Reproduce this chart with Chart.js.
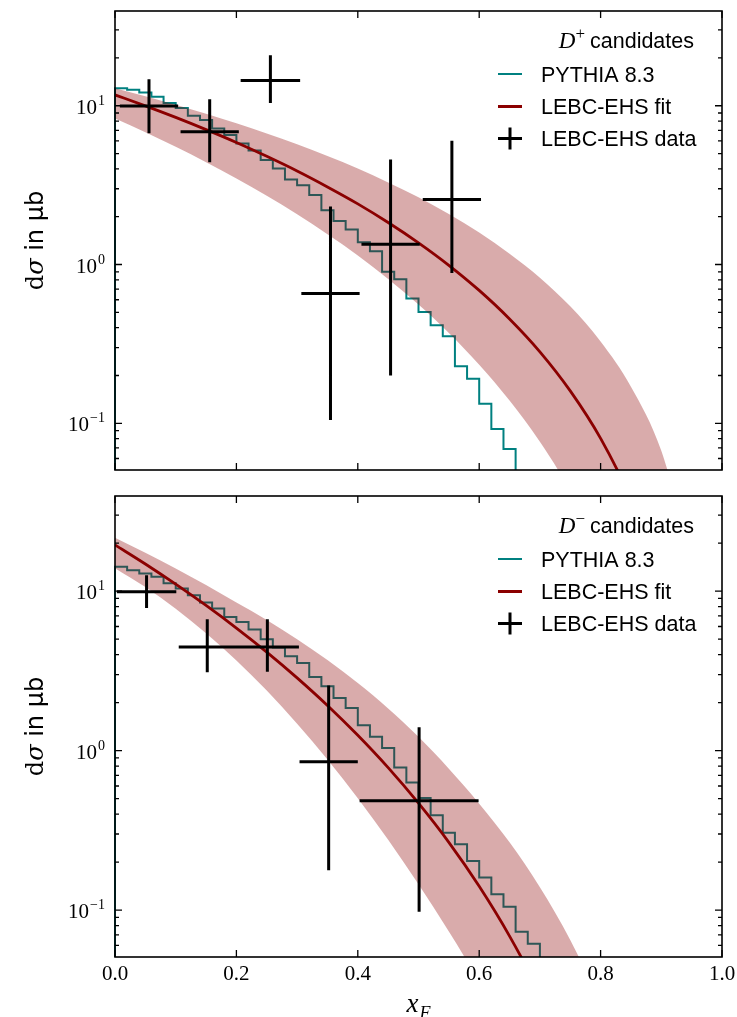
<!DOCTYPE html>
<html>
<head>
<meta charset="utf-8">
<script src="https://cdn.jsdelivr.net/npm/chart.js@4.4.1/dist/chart.umd.min.js"></script>
<style>
  html, body { margin: 0; padding: 0; background: #fff; }
  #wrap { position: relative; width: 737px; height: 1017px; overflow: hidden; }
  canvas { position: absolute; left: 0; }
  #top { top: 0; }
  #bot { top: 480px; }
</style>
</head>
<body>
<div id="wrap">
  <canvas id="top" width="737" height="480"></canvas>
  <canvas id="bot" width="737" height="537"></canvas>
</div>
<script>
// ---- values ----
const xTicks = [0, 0.2, 0.4, 0.6, 0.8, 1.0];
const yDecades = [0.1, 1, 10];
const legendRows = ['PYTHIA 8.3', 'LEBC-EHS fit', 'LEBC-EHS data'];

// PYTHIA histograms, bins of 0.02 starting at x = 0
const binWidth = 0.02;
const pythiaPlus = [12.9, 12.6, 12.1, 11.4, 10.4, 9.67, 8.65, 8.13, 7.2, 6.53, 5.79, 5.23, 4.55, 4.03, 3.43, 3.16, 2.74, 2.20,
  1.88, 1.66, 1.38, 1.21, 0.90, 0.807, 0.61, 0.503, 0.414, 0.353, 0.229, 0.191, 0.133, 0.092, 0.069, 0.03];
const pythiaMinus = [14.2, 13.5, 12.9, 12.3, 11.2, 10.4, 9.44, 8.50, 7.79, 6.89, 6.41, 5.74, 4.99, 4.43, 3.90, 3.54, 2.89, 2.53,
  2.14, 1.85, 1.44, 1.22, 1.04, 0.785, 0.632, 0.504, 0.394, 0.306, 0.259, 0.203, 0.160, 0.1255, 0.105, 0.0731, 0.0614, 0.03];

// fit curve and its band, sampled every 0.05
const fitX = [0, 0.05, 0.10, 0.15, 0.20, 0.25, 0.30, 0.35, 0.40, 0.45, 0.50, 0.55, 0.60, 0.65, 0.70, 0.75, 0.80, 0.85, 0.90, 0.95];
const fitPlus = [11.7, 9.98, 8.44, 7.07, 5.87, 4.80, 3.88, 3.08, 2.41, 1.84, 1.37, 0.989, 0.687, 0.454, 0.282, 0.160, 0.0803, 0.0330, 0.0094, 0.0011];
const bandPlusHi = [12.9, 11.47, 10.14, 8.90, 7.75, 6.69, 5.71, 4.82, 4.02, 3.29, 2.65, 2.08, 1.59, 1.17, 0.826, 0.545, 0.327, 0.170, 0.0672, 0.0138];
const bandPlusLo = [8.3, 6.80, 5.51, 4.41, 3.48, 2.71, 2.07, 1.55, 1.14, 0.810, 0.559, 0.371, 0.234, 0.139, 0.0764, 0.0376, 0.0158, 0.0052, 0.0011, 0.0001];
const fitMinus = [19.5, 14.8, 11.06, 8.13, 5.87, 4.15, 2.86, 1.92, 1.248, 0.782, 0.468, 0.266, 0.141, 0.0687, 0.0300, 0.01125, 0.00338, 0.00072, 0.0001, 0.00001];
const bandMinusHi = [21.6, 17.42, 13.89, 10.93, 8.48, 6.6, 5.0, 3.7, 2.65, 1.84, 1.22, 0.77, 0.465, 0.266, 0.139, 0.0649, 0.0255, 0.0076, 0.0014, 0.00008];
const bandMinusLo = [13.9, 10.6, 7.76, 5.45, 3.68, 2.38, 1.476, 0.880, 0.503, 0.276, 0.145, 0.0733, 0.0356, 0.0165, 0.00739, 0.00316, 0.00129, 0.0005, 0.00019, 0.00007];

// LEBC-EHS data points
const dataXPlus = [0.056, 0.156, 0.256, 0.355, 0.454, 0.555];
const dataXErrPlus = [0.048, 0.048, 0.049, 0.048, 0.048, 0.048];
const dataYPlus = [9.95, 6.85, 14.4, 0.656, 1.34, 2.57];
const dataYLoPlus = [6.70, 4.40, 10.4, 0.105, 0.200, 0.885];
const dataYHiPlus = [14.7, 10.97, 20.8, 2.32, 4.59, 6.02];

const dataXMinus = [0.052, 0.152, 0.251, 0.352, 0.501];
const dataXErrMinus = [0.049, 0.047, 0.052, 0.048, 0.098];
const dataYMinus = [9.9, 4.47, 4.47, 0.853, 0.485];
const dataYLoMinus = [7.85, 3.10, 3.12, 0.178, 0.0975];
const dataYHiMinus = [12.6, 6.67, 6.67, 2.56, 1.40];

const yMin = 0.0508, yMax = 39.5;
const teal = '#008080', darkred = '#8b0000', bandColor = 'rgba(139,0,0,0.33)';

function histPoints(vals) {
  const pts = [{ x: 0, y: 1e-4 }];
  vals.forEach((v, i) => pts.push({ x: i * binWidth, y: v }));
  pts.push({ x: vals.length * binWidth, y: 1e-4 });
  return pts;
}
function curve(ys) {
  return fitX.map((x, i) => ({ x, y: ys[i] }));
}
function errPoints(xs, xe, ys, lo, hi) {
  const pts = [];
  xs.forEach((x, i) => {
    pts.push({ x: x - xe[i], y: ys[i] }, { x: x + xe[i], y: ys[i] }, { x, y: null },
             { x, y: lo[i] }, { x, y: hi[i] }, { x, y: null });
  });
  return pts;
}

function decorate(sign, showX) {
  return {
    id: 'decorate',
    afterDraw(chart) {
      const { ctx, chartArea: a } = chart;
      const x = chart.scales.x, y = chart.scales.y;
      ctx.save();
      // frame and inward ticks
      ctx.strokeStyle = '#000';
      ctx.lineWidth = 1.6;
      ctx.strokeRect(a.left, a.top, a.right - a.left, a.bottom - a.top);
      ctx.lineWidth = 1.3;
      ctx.beginPath();
      xTicks.forEach(v => {
        const px = x.getPixelForValue(v);
        ctx.moveTo(px, a.bottom); ctx.lineTo(px, a.bottom - 7);
        ctx.moveTo(px, a.top); ctx.lineTo(px, a.top + 7);
      });
      for (let d = -2; d <= 1; d++) {
        for (let k = 1; k <= 9; k++) {
          const v = k * Math.pow(10, d);
          if (v < yMin || v > yMax) continue;
          const py = y.getPixelForValue(v), len = k === 1 ? 7 : 4;
          ctx.moveTo(a.left, py); ctx.lineTo(a.left + len, py);
          ctx.moveTo(a.right, py); ctx.lineTo(a.right - len, py);
        }
      }
      ctx.stroke();

      // y tick labels 10^n
      ctx.fillStyle = '#000';
      ctx.textAlign = 'right';
      ctx.textBaseline = 'alphabetic';
      yDecades.forEach(v => {
        const e = Math.round(Math.log10(v));
        const py = y.getPixelForValue(v);
        const sup = e < 0 ? '\u2212' + Math.abs(e) : String(e);
        ctx.font = '14px "Liberation Serif"';
        const ws = ctx.measureText(sup).width;
        ctx.fillText(sup, a.left - 10, py - 1);
        ctx.font = '21px "Liberation Serif"';
        ctx.fillText('10', a.left - 11 - ws, py + 8);
      });

      // x tick labels
      if (showX) {
        ctx.textAlign = 'center';
        ctx.font = '21px "Liberation Serif"';
        xTicks.forEach(v => ctx.fillText(v.toFixed(1), x.getPixelForValue(v), a.bottom + 23));
        const cx = (a.left + a.right) / 2 - 6;
        ctx.textAlign = 'left';
        ctx.font = 'italic 27px "Liberation Serif"';
        ctx.fillText('x', cx - 6, a.bottom + 55);
        ctx.font = 'italic 18px "Liberation Serif"';
        ctx.fillText('F', cx + 7, a.bottom + 62);
      }

      // y title
      ctx.save();
      ctx.translate(43, (a.top + a.bottom) / 2);
      ctx.rotate(-Math.PI / 2);
      const parts = [['d', '24px "DejaVu Serif"'], ['\u03c3', 'italic 24px "DejaVu Serif"'], [' in \u03bcb', '24px "DejaVu Sans"']];
      let total = 0;
      parts.forEach(p => { ctx.font = p[1]; total += ctx.measureText(p[0]).width; });
      let tx = -total / 2;
      ctx.textAlign = 'left';
      parts.forEach(p => { ctx.font = p[1]; ctx.fillText(p[0], tx, 0); tx += ctx.measureText(p[0]).width; });
      ctx.restore();

      // legend
      const R = a.right, T = a.top;
      ctx.textAlign = 'left';
      ctx.font = '21.5px "Liberation Sans"';
      const wc = ctx.measureText('candidates').width;
      const cX = R - 28 - wc;
      ctx.fillText('candidates', cX, T + 36.5);
      ctx.font = '17px "Liberation Serif"';
      const wsg = ctx.measureText(sign).width;
      ctx.fillText(sign, cX - 5 - wsg, T + 28);
      ctx.font = 'italic 23px "Liberation Serif"';
      const wd = ctx.measureText('D').width;
      ctx.fillText('D', cX - 5 - wsg - wd, T + 36.5);

      const rowY = [T + 63, T + 95.5, T + 127.5];
      const sx0 = R - 224, sx1 = R - 200;
      ctx.lineCap = 'butt';
      ctx.strokeStyle = teal; ctx.lineWidth = 2;
      ctx.beginPath(); ctx.moveTo(sx0, rowY[0]); ctx.lineTo(sx1, rowY[0]); ctx.stroke();
      ctx.strokeStyle = darkred; ctx.lineWidth = 3;
      ctx.beginPath(); ctx.moveTo(sx0, rowY[1]); ctx.lineTo(sx1, rowY[1]); ctx.stroke();
      ctx.strokeStyle = '#000'; ctx.lineWidth = 3;
      ctx.beginPath();
      ctx.moveTo(sx0, rowY[2]); ctx.lineTo(sx1, rowY[2]);
      ctx.moveTo((sx0 + sx1) / 2, rowY[2] - 11); ctx.lineTo((sx0 + sx1) / 2, rowY[2] + 11);
      ctx.stroke();
      ctx.font = '21.5px "Liberation Sans"';
      legendRows.forEach((t, i) => ctx.fillText(t, R - 181, rowY[i] + 7.5));
      ctx.restore();
    }
  };
}

function makeChart(id, pad, hist, fit, hi, lo, err, sign, showX) {
  return new Chart(document.getElementById(id), {
    type: 'line',
    data: {
      datasets: [
        { data: hist, borderColor: teal, borderWidth: 2, pointRadius: 0, stepped: 'before', fill: false,
          order: 4, clip: { left: 1, top: 0, right: 0, bottom: 0 } },
        { data: curve(hi), borderColor: 'transparent', borderWidth: 0, pointRadius: 0, fill: '+1',
          backgroundColor: bandColor, cubicInterpolationMode: 'monotone', order: 3 },
        { data: curve(lo), borderColor: 'transparent', borderWidth: 0, pointRadius: 0, fill: false,
          cubicInterpolationMode: 'monotone', order: 3 },
        { data: curve(fit), borderColor: darkred, borderWidth: 2.8, pointRadius: 0, fill: false,
          cubicInterpolationMode: 'monotone', order: 2 },
        { data: err, borderColor: '#000', borderWidth: 3, pointRadius: 0, fill: false, spanGaps: false,
          borderCapStyle: 'butt', tension: 0, order: 1 }
      ]
    },
    options: {
      responsive: false,
      animation: false,
      devicePixelRatio: 1,
      layout: { padding: pad },
      scales: {
        x: { type: 'linear', min: 0, max: 1, display: false },
        y: { type: 'logarithmic', min: yMin, max: yMax, bounds: 'data', display: false }
      },
      plugins: { legend: { display: false }, tooltip: { enabled: false } }
    },
    plugins: [decorate(sign, showX)]
  });
}

makeChart('top', { left: 115, right: 15, top: 11, bottom: 10 },
  histPoints(pythiaPlus), fitPlus, bandPlusHi, bandPlusLo,
  errPoints(dataXPlus, dataXErrPlus, dataYPlus, dataYLoPlus, dataYHiPlus), '+', false);

makeChart('bot', { left: 115, right: 15, top: 16, bottom: 60 },
  histPoints(pythiaMinus), fitMinus, bandMinusHi, bandMinusLo,
  errPoints(dataXMinus, dataXErrMinus, dataYMinus, dataYLoMinus, dataYHiMinus), '\u2212', true);
</script>
</body>
</html>
